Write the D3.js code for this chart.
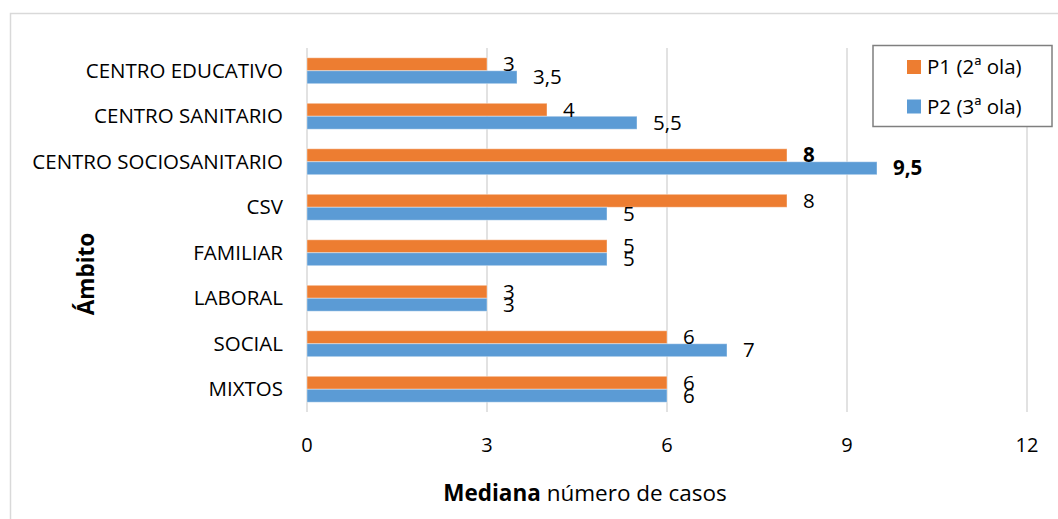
<!DOCTYPE html>
<html>
<head>
<meta charset="utf-8">
<script src="https://cdn.jsdelivr.net/npm/d3@7"></script>
<style>
  body { margin: 0; background: #fff; }
  text { font-family: "Open Sans", sans-serif; fill: #000; }
</style>
</head>
<body>
<div id="chart"></div>
<script>
// data
var categories = ["CENTRO EDUCATIVO", "CENTRO SANITARIO ", "CENTRO SOCIOSANITARIO", "CSV", "FAMILIAR", "LABORAL", "SOCIAL", "MIXTOS"];
var seriesNames = ["P1 (2ª ola)", "P2 (3ª ola)"];
var p1 = [3, 4, 8, 8, 5, 3, 6, 6];
var p2 = [3.5, 5.5, 9.5, 5, 5, 3, 7, 6];
var xTicks = [0, 3, 6, 9, 12];
var boldCategory = "CENTRO SOCIOSANITARIO";

var colors = ["#ED7D31", "#5B9BD5"];

var W = 1058, H = 519;
var plot = {left: 307, right: 1027, top: 48, bottom: 412};

var svg = d3.select("#chart").append("svg")
  .attr("width", W)
  .attr("height", H);

// outer chart frame
svg.append("rect")
  .attr("x", 10.5).attr("y", 13.5)
  .attr("width", W + 20).attr("height", H + 20)
  .attr("fill", "none")
  .attr("stroke", "#d9d9d9")
  .attr("stroke-width", 1.5);

var x = d3.scaleLinear().domain([0, 12]).range([plot.left, plot.right]);
var y = d3.scaleBand().domain(categories).range([plot.top, plot.bottom]).paddingInner(0.43).paddingOuter(0.215);
var ySub = d3.scaleBand().domain([0, 1]).range([0, y.bandwidth()]);

// gridlines
svg.append("g").selectAll("line")
  .data(xTicks)
  .join("line")
  .attr("x1", d => x(d)).attr("x2", d => x(d))
  .attr("y1", plot.top).attr("y2", plot.bottom)
  .attr("stroke", "#d9d9d9")
  .attr("stroke-width", 1.5);

// bars
var rows = categories.map((c, i) => ({cat: c, vals: [p1[i], p2[i]]}));

var groups = svg.append("g").selectAll("g")
  .data(rows)
  .join("g")
  .attr("transform", d => "translate(0," + y(d.cat) + ")");

groups.selectAll("rect")
  .data(d => d.vals.map((v, k) => ({v: v, k: k})))
  .join("rect")
  .attr("x", x(0))
  .attr("y", d => ySub(d.k))
  .attr("width", d => x(d.v) - x(0))
  .attr("height", ySub.bandwidth())
  .attr("fill", d => colors[d.k])
  .attr("stroke", "#fff")
  .attr("stroke-opacity", 0.4)
  .attr("stroke-width", 1);

// data labels
groups.each(function(row) {
  d3.select(this).selectAll("text")
    .data(row.vals.map((v, k) => ({v: v, k: k})))
    .join("text")
    .attr("x", d => x(d.v) + 16)
    .attr("y", d => ySub(d.k) + ySub.bandwidth() / 2)
    .attr("dy", "0.35em")
    .attr("font-size", 20.5)
    .attr("font-weight", row.cat === boldCategory ? "bold" : "normal")
    .text(d => String(d.v).replace(".", ","));
});

// category labels
svg.append("g").selectAll("text")
  .data(categories)
  .join("text")
  .attr("x", 283)
  .attr("y", d => y(d) + y.bandwidth() / 2)
  .attr("dy", "0.35em")
  .attr("text-anchor", "end")
  .attr("font-size", 20.5)
  .text(d => d.trim());

// x tick labels
svg.append("g").selectAll("text")
  .data(xTicks)
  .join("text")
  .attr("x", d => x(d))
  .attr("y", 445)
  .attr("dy", "0.35em")
  .attr("text-anchor", "middle")
  .attr("font-size", 20)
  .text(d => d);

// axis titles
var xt = svg.append("text")
  .attr("x", 585).attr("y", 493)
  .attr("dy", "0.35em")
  .attr("text-anchor", "middle")
  .attr("font-size", 22.5);
xt.append("tspan").attr("font-weight", "bold").text("Mediana");
xt.append("tspan").text(" número de casos");

svg.append("text")
  .attr("transform", "translate(86,274) rotate(-90)")
  .attr("dy", "0.35em")
  .attr("text-anchor", "middle")
  .attr("font-size", 22.5)
  .attr("font-weight", "bold")
  .text("Ámbito");

// legend
var lg = svg.append("g");
lg.append("rect")
  .attr("x", 873).attr("y", 45.5)
  .attr("width", 179).attr("height", 81)
  .attr("fill", "#fff")
  .attr("stroke", "#7f7f7f")
  .attr("stroke-width", 1.5);

var items = lg.selectAll("g.item")
  .data(seriesNames)
  .join("g")
  .attr("class", "item")
  .attr("transform", (d, i) => "translate(907," + (67 + i * 39.5) + ")");

items.append("rect")
  .attr("x", 0).attr("y", -7)
  .attr("width", 14).attr("height", 14)
  .attr("fill", (d, i) => colors[i]);

items.append("text")
  .attr("x", 20)
  .attr("dy", "0.35em")
  .attr("font-size", 20.5)
  .text(d => d);
</script>
</body>
</html>
